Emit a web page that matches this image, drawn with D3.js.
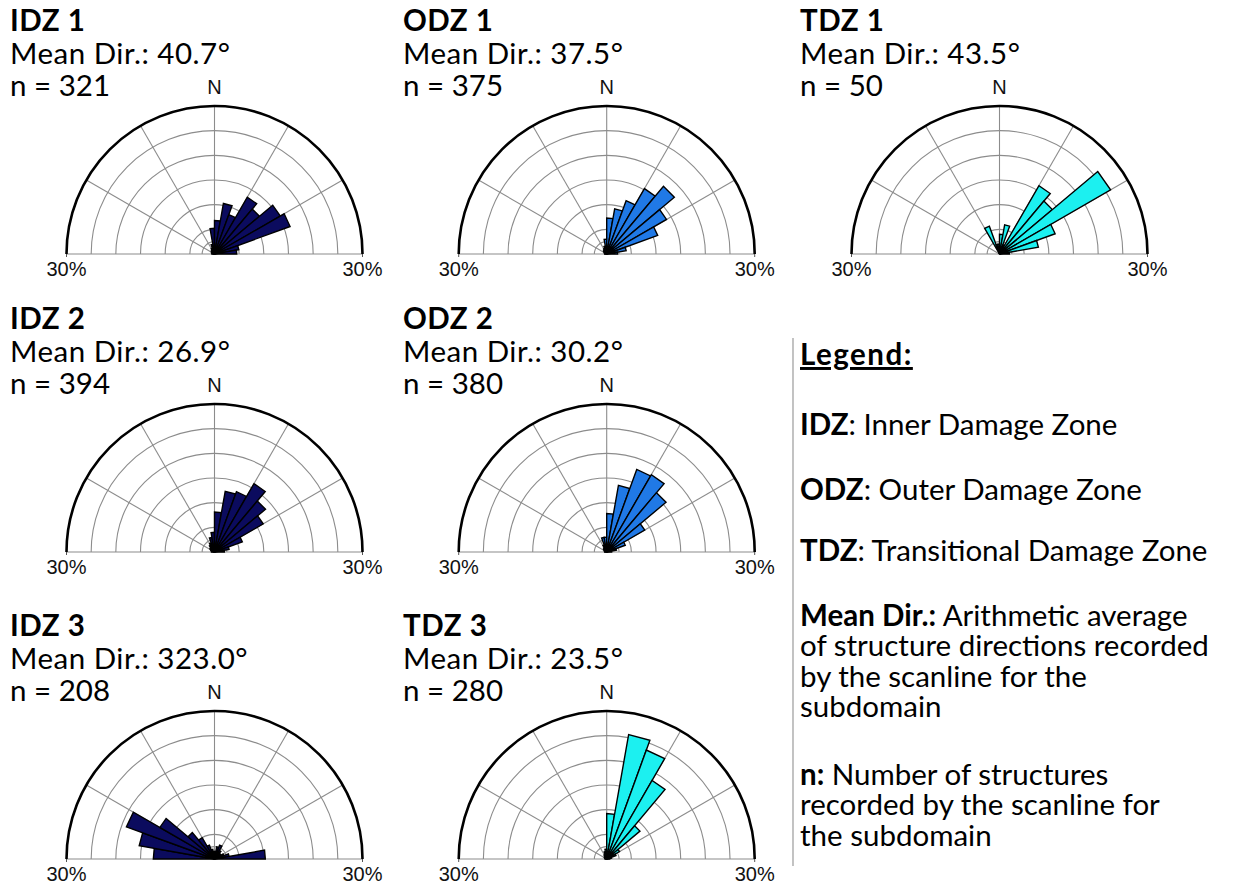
<!DOCTYPE html>
<html>
<head>
<meta charset="utf-8">
<script src="https://cdn.jsdelivr.net/npm/d3@7"></script>
<style>
  html, body { margin: 0; padding: 0; background: #fff; }
  svg { display: block; }
  .lbl { font-family: "Liberation Sans", Arial, sans-serif; font-size: 20px; fill: #111; }
  .ttl { font-family: Lato, "Open Sans", sans-serif; font-size: 29.5px; fill: #000; }
</style>
</head>
<body>
<script>
// Start of each 10° direction bin (compass degrees), shown on the upper half-circle
const binStarts = [270, 280, 290, 300, 310, 320, 330, 340, 350, 0, 10, 20, 30, 40, 50, 60, 70, 80];

// Percentage of structures in each bin, per subdomain
const idz1 = [0.5, 0.5, 0.6, 0.7, 0.8, 1.0, 1.3, 2.0, 5.2, 6.8, 10.4, 8.5, 13.3, 11.9, 15.4, 16.3, 5.0, 4.5];
const odz1 = [0.4, 0.4, 0.5, 0.6, 0.8, 1.0, 1.2, 1.6, 3.0, 7.3, 9.3, 11.5, 15.3, 17.9, 14.0, 11.0, 4.0, 2.2];
const tdz1 = [0, 0, 0, 0, 0, 0, 6.0, 2.0, 2.0, 4.0, 6.0, 2.0, 16.0, 14.0, 26.0, 12.0, 8.0, 2.0];
const idz2 = [0.6, 0.6, 0.8, 1.0, 1.2, 1.6, 2.0, 3.0, 4.0, 8.1, 12.5, 13.0, 16.0, 13.5, 11.4, 6.0, 3.0, 2.0];
const odz2 = [0.4, 0.4, 0.5, 0.6, 0.8, 1.0, 1.5, 3.0, 3.0, 7.8, 13.7, 17.8, 18.1, 15.7, 8.9, 4.0, 2.0, 1.0];
const idz3 = [12.4, 15.5, 19.0, 12.8, 7.0, 5.0, 3.0, 2.0, 1.5, 1.5, 2.5, 3.0, 2.0, 1.5, 1.5, 2.0, 3.0, 10.3];
const tdz3 = [0.3, 0.3, 0.4, 0.5, 0.6, 0.8, 1.0, 1.5, 2.0, 9.2, 25.6, 23.5, 18.4, 8.8, 3.0, 2.0, 1.0, 0.6];

// Panel headings
const names = ["IDZ 1", "ODZ 1", "TDZ 1", "IDZ 2", "ODZ 2", "IDZ 3", "TDZ 3"];
const meanDirs = ["40.7", "37.5", "43.5", "26.9", "30.2", "323.0", "23.5"];
const counts = [321, 375, 50, 394, 380, 208, 280];

// Radial rings (percent) and spokes (compass degrees)
const ringPcts = [2.5, 5, 10, 15, 20, 25];
const spokeDirs = [-60, -30, 0, 30, 60];
const maxPct = 30;
const axisLabel = "30%";

// Legend entries: bold key, then the wrapped lines of its description
const legendKeys = ["IDZ", "ODZ", "TDZ", "Mean Dir.:", "n:"];
const legendLines = [
  [": Inner Damage Zone"],
  [": Outer Damage Zone"],
  [": Transitional Damage Zone"],
  [" Arithmetic average", "of structure directions recorded", "by the scanline for the", "subdomain"],
  [" Number of structures", "recorded by the scanline for", "the subdomain"]
];
const legendYs = [435, 500, 561, 626, 785];

const zoneColors = { IDZ: "#0b0b5e", ODZ: "#2079e6", TDZ: "#1cf0f0" };

const W = 1234, H = 886;
const colX = [214.5, 606.7, 999.5];
const rowY = [254, 552, 859];
const textX = [10, 403, 800];
const R = 148;

const panels = [
  { data: idz1, c: 0, r: 0 }, { data: odz1, c: 1, r: 0 }, { data: tdz1, c: 2, r: 0 },
  { data: idz2, c: 0, r: 1 }, { data: odz2, c: 1, r: 1 },
  { data: idz3, c: 0, r: 2 }, { data: tdz3, c: 1, r: 2 }
];

const svg = d3.select("body").append("svg").attr("width", W).attr("height", H);

const rScale = d3.scaleLinear().domain([0, maxPct]).range([0, R]);
const toRad = d => d * Math.PI / 180;

const petal = d3.lineRadial()
  .angle(d => toRad(d.a))
  .radius(d => rScale(d.v))
  .curve(d3.curveLinearClosed);

panels.forEach((p, i) => {
  const cx = colX[p.c], cy = rowY[p.r];
  const zone = names[i].split(" ")[0];
  const g = svg.append("g").attr("transform", `translate(${cx},${cy})`);

  // rings
  ringPcts.forEach(pc => {
    const path = d3.path();
    path.arc(0, 0, rScale(pc), -Math.PI, 0);
    g.append("path").attr("d", path.toString())
      .attr("fill", "none").attr("stroke", "#8c8c8c").attr("stroke-width", 1.1);
  });
  // spokes
  spokeDirs.forEach(a => {
    g.append("line")
      .attr("x1", 0).attr("y1", 0)
      .attr("x2", rScale(maxPct) * Math.sin(toRad(a)))
      .attr("y2", -rScale(maxPct) * Math.cos(toRad(a)))
      .attr("stroke", "#8c8c8c").attr("stroke-width", 1.1);
  });
  // baseline with end ticks
  g.append("line").attr("x1", -R).attr("x2", R).attr("y1", 0).attr("y2", 0)
    .attr("stroke", "#8c8c8c").attr("stroke-width", 1.2);
  [-R, R].forEach(x => g.append("line").attr("x1", x).attr("x2", x).attr("y1", -3).attr("y2", 3)
    .attr("stroke", "#555").attr("stroke-width", 1));

  // petals
  g.selectAll("path.petal")
    .data(binStarts.map((a, k) => ({ a, v: p.data[k] })).filter(d => d.v > 0))
    .join("path")
    .attr("class", "petal")
    .attr("d", d => petal([{ a: d.a, v: 0 }, { a: d.a, v: d.v }, { a: d.a + 10, v: d.v }]))
    .attr("fill", zoneColors[zone])
    .attr("stroke", "#000")
    .attr("stroke-width", 1.4)
    .attr("stroke-linejoin", "miter");

  // outer rim
  const rim = d3.path();
  rim.arc(0, 0, rScale(maxPct), -Math.PI, 0);
  g.append("path").attr("d", rim.toString())
    .attr("fill", "none").attr("stroke", "#000").attr("stroke-width", 2.6);

  // labels
  g.append("text").attr("class", "lbl").attr("x", 0).attr("y", -R - 12)
    .attr("text-anchor", "middle").text("N");
  g.append("text").attr("class", "lbl").attr("x", -R).attr("y", 22)
    .attr("text-anchor", "middle").text(axisLabel);
  g.append("text").attr("class", "lbl").attr("x", R).attr("y", 22)
    .attr("text-anchor", "middle").text(axisLabel);

  // heading
  const tx = textX[p.c], ty = cy - 223;
  svg.append("text").attr("class", "ttl").attr("x", tx).attr("y", ty)
    .attr("font-weight", "bold").attr("letter-spacing", 0.5).text(names[i]);
  svg.append("text").attr("class", "ttl").attr("x", tx).attr("y", ty + 33)
    .attr("letter-spacing", 0.5).text(`Mean Dir.: ${meanDirs[i]}°`);
  svg.append("text").attr("class", "ttl").attr("x", tx).attr("y", ty + 65)
    .text(`n = ${counts[i]}`);
});

// legend
svg.append("line").attr("x1", 793).attr("x2", 793).attr("y1", 338).attr("y2", 866)
  .attr("stroke", "#9a9a9a").attr("stroke-width", 1.2);
svg.append("text").attr("class", "ttl").attr("x", 800).attr("y", 365)
  .attr("font-weight", "bold").attr("font-size", 35).attr("letter-spacing", 1.5)
  .attr("text-decoration", "underline")
  .text("Legend:");
legendKeys.forEach((key, k) => {
  const txt = svg.append("text").attr("class", "ttl").attr("x", 800).attr("y", legendYs[k])
    .attr("font-size", 30.5);
  txt.append("tspan").attr("font-weight", "bold").text(key);
  legendLines[k].forEach((line, j) => {
    const ts = txt.append("tspan").text(line);
    if (j > 0) ts.attr("x", 800).attr("dy", 30.4);
  });
});
</script>
</body>
</html>
